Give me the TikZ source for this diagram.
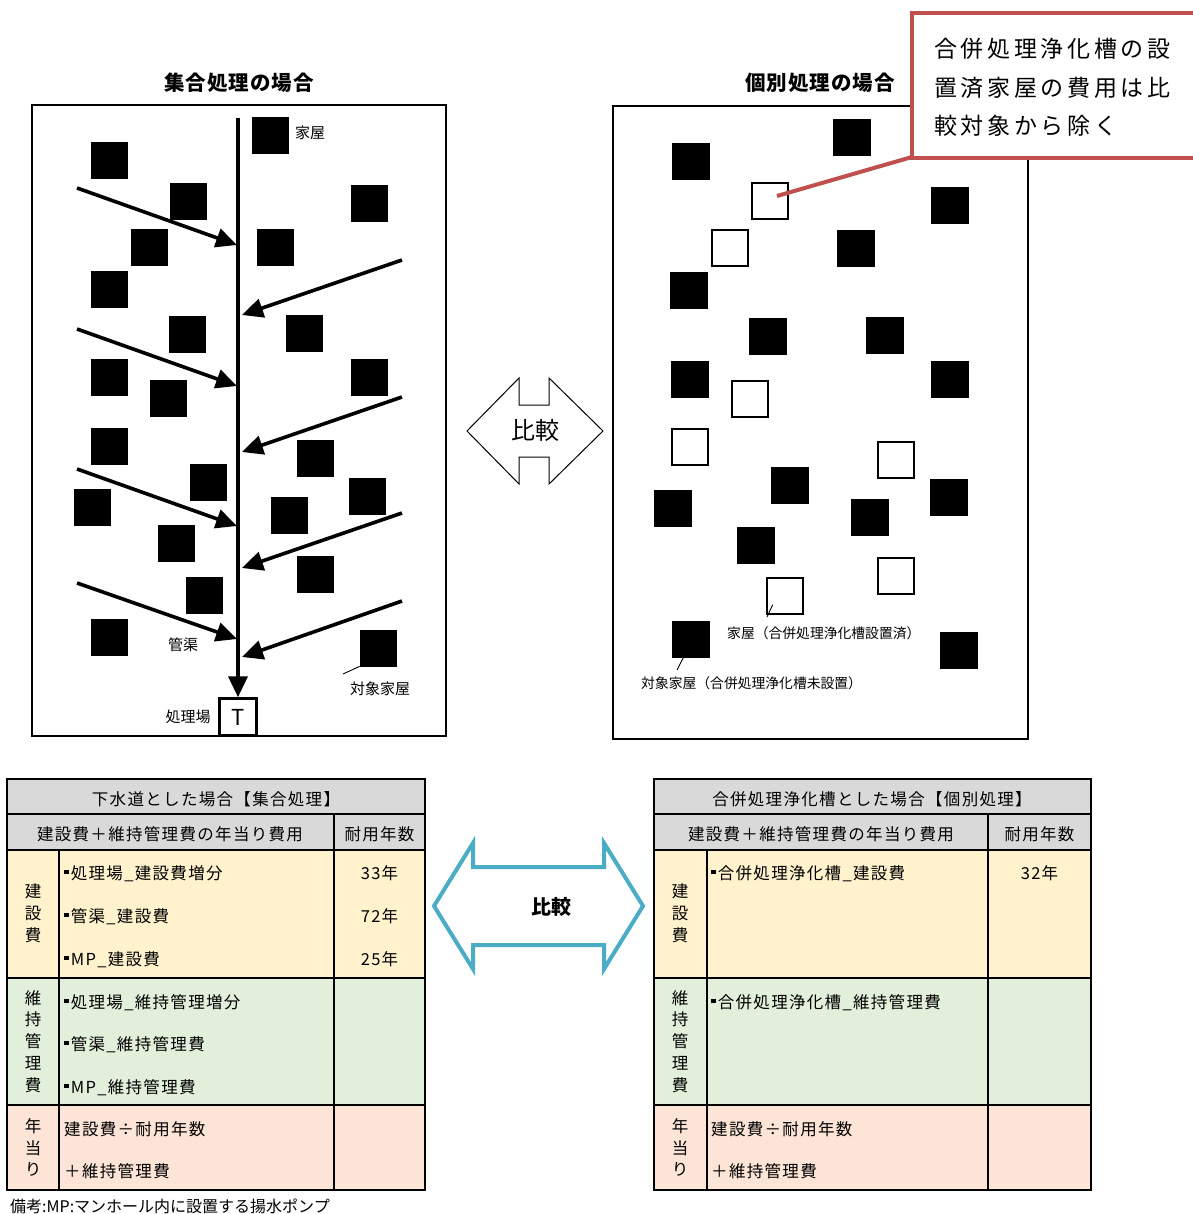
\documentclass[tikz,border=0pt]{standalone}
\usepackage{fontspec}
\setmainfont{Noto Sans CJK JP}
\newfontfamily\calloutfont[LetterSpace=16]{Noto Sans CJK JP}
\newfontfamily\tabfont[LetterSpace=8]{Noto Sans CJK JP}
\newfontfamily\titlefont[LetterSpace=5]{Noto Sans CJK JP}
\usetikzlibrary{arrows.meta,calc}
\definecolor{hdrgray}{HTML}{D9D9D9}
\definecolor{conyel}{HTML}{FFF2CC}
\definecolor{mntgrn}{HTML}{E2EFDA}
\definecolor{annpink}{HTML}{FCE4D6}
\definecolor{calred}{HTML}{C0504D}
\definecolor{cmpblue}{HTML}{4BACC6}
\newcommand{\sqbul}{\rule[0.3em]{0.28em}{0.28em}\hspace{0.12em}}
\tikzset{
  house/.style={draw=black, fill=black, minimum size=36pt, inner sep=0pt, line width=0.8pt},
  emptyhouse/.style={draw=black, fill=white, minimum size=36pt, inner sep=0pt, line width=1.3pt},
  sewer/.style={line width=3.6pt, -{Triangle[length=21pt,width=19pt]}},
  panel/.style={draw=black, line width=1.2pt},
  lbl/.style={font=\fontsize{15}{16}\selectfont, inner sep=0pt},
  smlbl/.style={font=\fontsize{13.8}{15}\selectfont, inner sep=0pt},
  ptitle/.style={font=\titlefont\fontsize{20.5}{22}\selectfont\bfseries, inner sep=0pt},
  leader/.style={line width=0.9pt},
  tb/.style={font=\tabfont\fontsize{16.5}{18}\selectfont, inner sep=0pt, yshift=-1.5pt},
  tbv/.style={font=\tabfont\fontsize{16.5}{21.8}\selectfont, inner sep=0pt, align=center},
  grid/.style={line width=1.8pt, draw=black},
}
\begin{document}
\begin{tikzpicture}[x=1pt,y=-1pt]
\useasboundingbox (0,0) rectangle (1192,1214);

% ---------------- Left panel: collective treatment ----------------
\node[ptitle] (ltitle) at (239,83) {集合処理の場合};
\draw[panel] (32,105) rectangle (446,736);

\foreach \n/\x/\y in {1/109/160, 2/188/201, 3/270/135, 4/369/203, 5/149/247, 6/275/247,
  7/109/289, 8/187/334, 9/304/333, 10/109/377, 11/168/398, 12/369/377, 13/109/446,
  14/315/458, 15/208/482, 16/367/496, 17/92/507, 18/289/515, 19/176/543, 20/315/574,
  21/204/595, 22/109/637, 23/378/648}
  \node[house] (L\n) at (\x,\y) {};

\node[lbl, anchor=west] (lhouse) at (295,133) {家屋};

% treatment plant
\node[draw=black, line width=2.4pt, minimum size=37pt, inner sep=0pt,
      font=\fontsize{22}{22}\selectfont] (T) at (238,717) {T};
\node[lbl] (tlabel) at (188,717) {処理場};
\node[lbl] (pipelabel) at (183,645) {管渠};
\node[lbl] (tgtlabel) at (380,689) {対象家屋};
\coordinate (tgtlead) at (343,674);
\draw[leader] (tgtlead) -- (L23.south west);

% main sewer
\coordinate (ptop) at (238,118);
\draw[sewer] (ptop) -- (T.north);

% branch sewers
\coordinate (la1s) at (77,188);  \coordinate (la1e) at (237,245);
\coordinate (la2s) at (77,329);  \coordinate (la2e) at (237,386);
\coordinate (la3s) at (77,469);  \coordinate (la3e) at (237,526);
\coordinate (la4s) at (77,583);  \coordinate (la4e) at (237,639);
\coordinate (ra1s) at (402,260); \coordinate (ra1e) at (242,315);
\coordinate (ra2s) at (402,397); \coordinate (ra2e) at (242,452);
\coordinate (ra3s) at (402,513); \coordinate (ra3e) at (242,568);
\coordinate (ra4s) at (402,601); \coordinate (ra4e) at (242,657);
\foreach \a in {la1,la2,la3,la4,ra1,ra2,ra3,ra4}
  \draw[sewer] (\a s) -- (\a e);

% ---------------- Middle comparison arrow ----------------
\draw[line width=1pt, fill=white] (467,431) -- (519,378) -- (519,405) -- (549,405) -- (549,378)
  -- (603,431) -- (549,484) -- (549,457) -- (519,457) -- (519,484) -- cycle;
\node[font=\fontsize{24}{24}\selectfont, inner sep=0pt] (cmp1) at (535,430) {比較};

% ---------------- Right panel: individual treatment ----------------
\node[ptitle] (rtitle) at (820,83) {個別処理の場合};
\draw[panel] (613,106) rectangle (1028,739);

\foreach \n/\x/\y in {1/691/161, 2/852/137, 3/950/205, 4/856/248, 5/689/290, 6/768/336,
  7/885/335, 8/690/379, 9/950/379, 10/790/485, 11/673/508, 12/870/517, 13/949/497,
  14/756/545, 15/691/639, 16/959/650}
  \node[house, minimum width=37pt] (R\n) at (\x,\y) {};
\foreach \n/\x/\y in {1/770/201, 2/730/248, 3/750/399, 4/690/447, 5/896/460, 6/896/576, 7/785/596}
  \node[emptyhouse] (W\n) at (\x,\y) {};

\node[smlbl, anchor=west] (wlabel) at (727,633) {家屋（合併処理浄化槽設置済）};
\coordinate (wlead) at (767,617);
\draw[leader] (wlead) -- ($(W7.south west)!0.17!(W7.south east)+(0,-10)$);
\node[smlbl, anchor=west] (blabel) at (641,683) {対象家屋（合併処理浄化槽未設置）};
\coordinate (blead) at (677,670);
\draw[leader] (blead) -- ($(R15.south west)!0.3!(R15.south east)$);

% ---------------- Callout ----------------
\draw[calred, line width=4pt, fill=white] (1200,13) -- (912,13) -- (912,158) -- (1200,158);
\node[font=\calloutfont\fontsize{23}{38.5}\selectfont, align=left, anchor=north west, inner sep=0pt]
  (callout) at (934,38) {合併処理浄化槽の設\\置済家屋の費用は比\\較対象から除く};
\coordinate (calfoot) at (912,157);
\coordinate (wtarget) at (777,196);
\draw[calred, line width=4pt] (calfoot) -- (wtarget);

% ---------------- Left table ----------------
\fill[hdrgray] (7,779) rectangle (425,850);
\fill[conyel] (7,850) rectangle (425,978);
\fill[mntgrn] (7,978) rectangle (425,1105);
\fill[annpink] (7,1105) rectangle (425,1190);
\draw[grid] (7,779) rectangle (425,1190);
\draw[grid] (7,814) -- (425,814);
\draw[grid] (7,850) -- (425,850);
\draw[grid] (7,978) -- (425,978);
\draw[grid] (7,1105) -- (425,1105);
\draw[grid] (334,814) -- (334,1190);
\draw[grid] (59,850) -- (59,1190);

\node[tb] (lt0) at (216,798) {下水道とした場合【集合処理】};
\node[tb] (lh1) at (170,833) {建設費＋維持管理費の年当り費用};
\node[tb] (lh2) at (379.5,833) {耐用年数};
\node[tbv] (lv1) at (33,913.5) {建\\設\\費};
\node[tbv] (lv2) at (33,1041.5) {維\\持\\管\\理\\費};
\node[tbv] (lv3) at (33,1147.5) {年\\当\\り};
\node[tb, anchor=west] (li1) at (64,872) {\sqbul 処理場\_建設費増分};
\node[tb, anchor=west] (li2) at (64,915) {\sqbul 管渠\_建設費};
\node[tb, anchor=west] (li3) at (64,958) {\sqbul MP\_建設費};
\node[tb] (ly1) at (379.5,872) {33年};
\node[tb] (ly2) at (379.5,915) {72年};
\node[tb] (ly3) at (379.5,958) {25年};
\node[tb, anchor=west] (li4) at (64,1001) {\sqbul 処理場\_維持管理増分};
\node[tb, anchor=west] (li5) at (64,1043) {\sqbul 管渠\_維持管理費};
\node[tb, anchor=west] (li6) at (64,1086) {\sqbul MP\_維持管理費};
\node[tb, anchor=west] (li7) at (64,1128) {建設費÷耐用年数};
\node[tb, anchor=west] (li8) at (64,1170) {＋維持管理費};

\node[font=\fontsize{16}{17}\selectfont, inner sep=0pt, anchor=west] (note) at (10,1206)
  {備考:MP:マンホール内に設置する揚水ポンプ};

% ---------------- Blue comparison arrow ----------------
\draw[cmpblue, line width=4pt, fill=white, line join=miter] (434,906) -- (473,843) -- (473,867) -- (604,867)
  -- (604,843) -- (643,906) -- (604,969) -- (604,945) -- (473,945) -- (473,969) -- cycle;
\node[font=\fontsize{20}{20}\selectfont\bfseries, inner sep=0pt] (cmp2) at (551,907) {比較};

% ---------------- Right table ----------------
\fill[hdrgray] (654,779) rectangle (1091,850);
\fill[conyel] (654,850) rectangle (1091,978);
\fill[mntgrn] (654,978) rectangle (1091,1105);
\fill[annpink] (654,1105) rectangle (1091,1190);
\draw[grid] (654,779) rectangle (1091,1190);
\draw[grid] (654,814) -- (1091,814);
\draw[grid] (654,850) -- (1091,850);
\draw[grid] (654,978) -- (1091,978);
\draw[grid] (654,1105) -- (1091,1105);
\draw[grid] (988,814) -- (988,1190);
\draw[grid] (707,850) -- (707,1190);

\node[tb] (rt0) at (872,798) {合併処理浄化槽とした場合【個別処理】};
\node[tb] (rh1) at (821,833) {建設費＋維持管理費の年当り費用};
\node[tb] (rh2) at (1039.5,833) {耐用年数};
\node[tbv] (rv1) at (680,913.5) {建\\設\\費};
\node[tbv] (rv2) at (680,1041.5) {維\\持\\管\\理\\費};
\node[tbv] (rv3) at (680,1147.5) {年\\当\\り};
\node[tb, anchor=west] (ri1) at (711,872) {\sqbul 合併処理浄化槽\_建設費};
\node[tb] (ry1) at (1039.5,872) {32年};
\node[tb, anchor=west] (ri2) at (711,1001) {\sqbul 合併処理浄化槽\_維持管理費};
\node[tb, anchor=west] (ri3) at (711,1128) {建設費÷耐用年数};
\node[tb, anchor=west] (ri4) at (711,1170) {＋維持管理費};
\end{tikzpicture}
\end{document}
